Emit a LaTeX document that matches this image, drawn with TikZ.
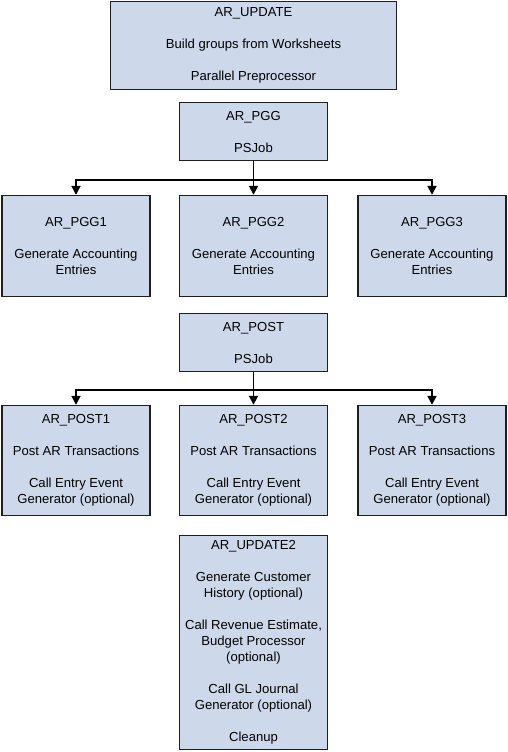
\documentclass[tikz,border=0pt]{standalone}
\usepackage{fontspec}
\setmainfont{Liberation Sans}
\usetikzlibrary{arrows.meta}
\definecolor{boxfill}{RGB}{205,217,235}
\definecolor{boxline}{RGB}{30,30,30}
\begin{document}
\begin{tikzpicture}[x=1bp,y=-1bp,
  box/.style={draw=boxline,line width=1.4bp,fill=boxfill,align=center,
    font=\fontsize{13.1bp}{16bp}\selectfont,inner sep=0pt,
    minimum width=148bp},
  arr/.style={draw=black,line width=1.8bp,-{Triangle[length=9bp,width=9bp]}}]
\useasboundingbox (0,0) rectangle (508,752);
\node[box,minimum width=286bp,minimum height=88bp] (upd) at (253.5,45.5)
  {AR\_UPDATE\\[16bp]Build groups from Worksheets\\[16bp]Parallel Preprocessor};
\node[box,minimum height=58bp] (pgg) at (253.5,131.5) {AR\_PGG\\[16bp]PSJob};
\node[box,minimum height=101bp] (pgg1) at (76,246) {AR\_PGG1\\[16bp]Generate Accounting\\Entries};
\node[box,minimum height=101bp] (pgg2) at (253.5,246) {AR\_PGG2\\[16bp]Generate Accounting\\Entries};
\node[box,minimum height=101bp] (pgg3) at (432,246) {AR\_PGG3\\[16bp]Generate Accounting\\Entries};
\coordinate (j1) at (253.5,180);
\draw[arr] (pgg.south) -- (pgg2.north);
\draw[arr] (j1) -| (pgg1.north);
\draw[arr] (j1) -| (pgg3.north);
\node[box,minimum height=58bp] (post) at (253.5,342.5) {AR\_POST\\[16bp]PSJob};
\node[box,minimum height=110bp] (post1) at (76,460.5) {AR\_POST1\\[16bp]Post AR Transactions\\[16bp]Call Entry Event\\Generator (optional)};
\node[box,minimum height=110bp] (post2) at (253.5,460.5) {AR\_POST2\\[16bp]Post AR Transactions\\[16bp]Call Entry Event\\Generator (optional)};
\node[box,minimum height=110bp] (post3) at (432,460.5) {AR\_POST3\\[16bp]Post AR Transactions\\[16bp]Call Entry Event\\Generator (optional)};
\coordinate (j2) at (253.5,390);
\draw[arr] (post.south) -- (post2.north);
\draw[arr] (j2) -| (post1.north);
\draw[arr] (j2) -| (post3.north);
\node[box,minimum height=214bp] (upd2) at (253.5,642.5) {AR\_UPDATE2\\[16bp]Generate Customer\\History (optional)\\[16bp]Call Revenue Estimate,\\Budget Processor\\(optional)\\[16bp]Call GL Journal\\Generator (optional)\\[16bp]Cleanup};
\end{tikzpicture}
\end{document}
